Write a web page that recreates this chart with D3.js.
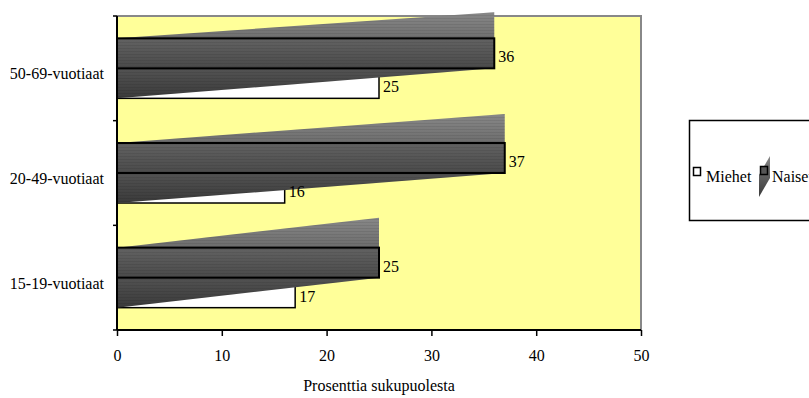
<!DOCTYPE html>
<html><head><meta charset="utf-8">
<script src="https://cdn.jsdelivr.net/npm/d3@7"></script>
<style>html,body{margin:0;padding:0;background:#fff;}svg{display:block;font-family:"Liberation Serif","Times New Roman",serif;}</style>
</head><body><svg id="c" width="809" height="398"></svg>
<script>
const categories = ["50-69-vuotiaat", "20-49-vuotiaat", "15-19-vuotiaat"];
const seriesNames = ["Miehet", "Naiset"];
const miehet = [25, 16, 17];
const naiset = [36, 37, 25];
const xTicks = [0, 10, 20, 30, 40, 50];
const axisTitle = "Prosenttia sukupuolesta";

const svg = d3.select("#c");
const FS = 16;
const plot = {left: 117, right: 641, top: 16, bottom: 330};

const x = d3.scaleLinear().domain([0, 50]).range([plot.left, plot.right]);
const y = d3.scaleBand().domain(categories).range([plot.top, plot.bottom]).padding(0);
const yIn = d3.scaleBand().domain(["Naiset", "Miehet"]).range([0, y.bandwidth()]).paddingInner(0).paddingOuter(0.744);

const defs = svg.append("defs");
const g1 = defs.append("linearGradient").attr("id", "wedge").attr("x1", 0).attr("y1", 0).attr("x2", 0).attr("y2", 1);
g1.append("stop").attr("offset", "0%").attr("stop-color", "#888888");
g1.append("stop").attr("offset", "50%").attr("stop-color", "#5e5e5e");
g1.append("stop").attr("offset", "100%").attr("stop-color", "#3a3a3a");
const g2 = defs.append("linearGradient").attr("id", "barg").attr("x1", 0).attr("y1", 0).attr("x2", 0).attr("y2", 1);
g2.append("stop").attr("offset", "0%").attr("stop-color", "#626262");
g2.append("stop").attr("offset", "100%").attr("stop-color", "#4a4a4a");
const pat = defs.append("pattern").attr("id", "stripes").attr("patternUnits", "userSpaceOnUse").attr("width", 809).attr("height", 3);
pat.append("rect").attr("x", 0).attr("y", 0).attr("width", 809).attr("height", 1).attr("fill", "#000").attr("opacity", 0.08);

svg.append("rect").attr("x", plot.left).attr("y", plot.top).attr("width", plot.right - plot.left).attr("height", plot.bottom - plot.top).attr("fill", "#ffff99");
svg.append("path").attr("d", `M${plot.left},${plot.top}H${plot.right}V${plot.bottom}`).attr("fill", "none").attr("stroke", "#888").attr("stroke-width", 2);

const bh = yIn.bandwidth();
categories.forEach((c, i) => {
  const y0 = y(c) + yIn("Naiset");
  const y1 = y(c) + yIn("Miehet");
  const y2 = y1 + bh;
  const x0 = x(0), xm = x(miehet[i]), xn = x(naiset[i]);
  svg.append("rect").attr("x", x0).attr("y", y1).attr("width", xm - x0).attr("height", bh)
    .attr("fill", "#fff").attr("stroke", "#000").attr("stroke-width", 1.5);
  const k = bh * [0.87, 0.97, 1.0][i];
  const pts = [[x0, y0], [xn, y0 - k], [xn, y1], [x0, y2]];
  svg.append("path").attr("d", d3.line()(pts) + "Z").attr("fill", "url(#wedge)");
  svg.append("path").attr("d", d3.line()(pts) + "Z").attr("fill", "url(#stripes)");
  svg.append("rect").attr("x", x0).attr("y", y0).attr("width", xn - x0).attr("height", bh)
    .attr("fill", "url(#barg)");
  svg.append("rect").attr("x", x0).attr("y", y0).attr("width", xn - x0).attr("height", bh)
    .attr("fill", "url(#stripes)").attr("stroke", "#000").attr("stroke-width", 2);
  svg.append("text").attr("x", xn + 4).attr("y", y0 + bh / 2 + 9).attr("font-size", FS).text(naiset[i]);
  svg.append("text").attr("x", xm + 4).attr("y", y1 + bh / 2 + 9).attr("font-size", FS).text(miehet[i]);
});

const xAxis = d3.axisBottom(x).tickValues(xTicks).tickSize(6).tickPadding(14);
const gx = svg.append("g").attr("transform", `translate(0,${plot.bottom})`).call(xAxis);
gx.select(".domain").attr("stroke", "#000").attr("stroke-width", 2).attr("d", `M${plot.left},0H${plot.right}`);
gx.selectAll(".tick line").attr("stroke", "#000").attr("stroke-width", 1.5);
gx.selectAll(".tick text").attr("font-family", "Liberation Serif").attr("font-size", FS).attr("fill", "#000");

const yAxis = d3.axisLeft(y).tickSize(0).tickPadding(13);
const gy = svg.append("g").attr("transform", `translate(${plot.left},0)`).call(yAxis);
gy.select(".domain").attr("stroke", "#000").attr("stroke-width", 2).attr("d", `M0,${plot.top}V${plot.bottom}`);
gy.selectAll(".tick text").attr("font-family", "Liberation Serif").attr("font-size", FS).attr("fill", "#000").attr("dy", "0.32em").attr("y", 6);
const bounds = categories.map(c => y(c)).concat([plot.bottom]);
svg.append("g").selectAll("line").data(bounds).join("line")
  .attr("x1", plot.left - 4).attr("x2", plot.left).attr("y1", d => d).attr("y2", d => d)
  .attr("stroke", "#000").attr("stroke-width", 1.5);

svg.append("text").attr("x", (plot.left + plot.right) / 2).attr("y", 391).attr("text-anchor", "middle")
  .attr("font-size", FS).text(axisTitle);

const lg = svg.append("g");
lg.append("rect").attr("x", 689.5).attr("y", 120.5).attr("width", 140).attr("height", 100).attr("fill", "#fff").attr("stroke", "#000").attr("stroke-width", 1.5);
lg.append("rect").attr("x", 693.5).attr("y", 167.5).attr("width", 7).attr("height", 8).attr("fill", "#fff").attr("stroke", "#000").attr("stroke-width", 1.5);
lg.append("text").attr("x", 706).attr("y", 182).attr("font-size", FS).text(seriesNames[0]);
lg.append("path").attr("d", d3.line()([[759, 175], [770, 156], [770, 178], [759, 197]]) + "Z").attr("fill", "url(#wedge)");
lg.append("rect").attr("x", 760.5).attr("y", 166.5).attr("width", 7).attr("height", 8).attr("fill", "#555").attr("stroke", "#000").attr("stroke-width", 1.5);
lg.append("text").attr("x", 772).attr("y", 182).attr("font-size", FS).text(seriesNames[1]);
</script></body></html>
